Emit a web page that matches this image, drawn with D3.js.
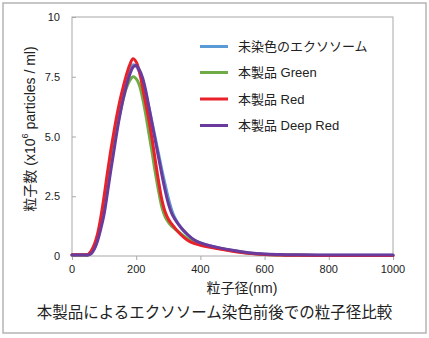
<!DOCTYPE html>
<html><head><meta charset="utf-8">
<script src="https://cdn.jsdelivr.net/npm/d3@7"></script>
<style>html,body{margin:0;padding:0;background:#fff;}svg{display:block;}</style>
</head><body>
<svg id="c" width="429" height="338"></svg>
<script>
const sizes = [0,20,40,50,60,70,80,90,100,110,120,130,140,150,160,170,180,190,200,210,220,230,240,250,260,270,280,290,300,310,320,340,360,380,400,430,460,500,550,600,650,700,800,900,1000];
const unstained = [0.04,0.04,0.04,0.05,0.12,0.35,0.75,1.3,1.95,2.8,3.75,4.6,5.45,6.2,6.8,7.35,7.75,8.0,7.95,7.7,7.3,6.8,6.2,5.55,4.9,4.25,3.6,3.0,2.42,1.95,1.6,1.18,0.88,0.67,0.55,0.42,0.33,0.23,0.13,0.07,0.05,0.04,0.03,0.03,0.03];
const green = [0.04,0.04,0.04,0.05,0.12,0.35,0.75,1.3,1.95,2.8,3.7,4.55,5.35,6.0,6.6,7.05,7.35,7.5,7.42,7.15,6.6,5.9,5.1,4.3,3.45,2.7,2.05,1.65,1.42,1.26,1.14,0.92,0.72,0.6,0.5,0.4,0.32,0.22,0.12,0.06,0.04,0.03,0.02,0.02,0.02];
const red = [0.05,0.05,0.05,0.06,0.22,0.5,0.95,1.64,2.5,3.45,4.35,5.15,5.9,6.55,7.1,7.6,8.0,8.25,8.12,7.7,7.05,6.35,5.65,4.85,3.95,3.1,2.35,1.85,1.55,1.35,1.18,0.88,0.66,0.53,0.45,0.36,0.29,0.2,0.11,0.06,0.04,0.03,0.02,0.02,0.02];
const deepRed = [0.04,0.04,0.04,0.04,0.1,0.3,0.65,1.15,1.75,2.6,3.5,4.35,5.2,5.95,6.6,7.15,7.6,7.9,7.97,7.78,7.45,6.9,6.2,5.5,4.8,4.1,3.4,2.75,2.2,1.8,1.55,1.18,0.9,0.68,0.55,0.43,0.34,0.24,0.14,0.08,0.06,0.05,0.04,0.04,0.04];
const seriesNames = ["未染色のエクソソーム","本製品 Green","本製品 Red","本製品 Deep Red"];
const seriesColors = ["#5b9bd5","#6fac46","#e8212b","#6a3a9c"];
const xTicks = [0,200,400,600,800,1000];
const yTicks = [0,2.5,5,7.5,10];
const yTickLabels = ["0","2.5","5.0","7.5","10"];
const xTitle = "粒子径(nm)";
const caption = "本製品によるエクソソーム染色前後での粒子径比較";

const svg = d3.select("#c");
const latin = "'Liberation Sans', Arial, Helvetica, sans-serif";
const cjk = "'Liberation Sans', Arial, 'Noto Sans CJK JP', sans-serif";

svg.append("rect").attr("x",3).attr("y",3).attr("width",423).attr("height",330)
  .attr("fill","#fff").attr("stroke","#b4b4b4").attr("stroke-width",1.5);

const L=72, R=393, T=17, B=256;
const x = d3.scaleLinear().domain([0,1000]).range([L,R]);
const y = d3.scaleLinear().domain([0,10]).range([B,T]);

svg.append("rect").attr("x",L).attr("y",T).attr("width",R-L).attr("height",B-T)
  .attr("fill","none").attr("stroke","#a8a8a8").attr("stroke-width",1);

const yAxis = svg.append("g").attr("transform",`translate(${L},0)`)
  .call(d3.axisRight(y).tickValues(yTicks).tickSize(4).tickFormat(""));
yAxis.select(".domain").remove();
yAxis.selectAll("line").attr("stroke","#a8a8a8");
svg.append("g").selectAll("text").data(yTicks).join("text")
  .attr("x",60).attr("y",d=>y(d)).attr("text-anchor","end").attr("dominant-baseline","central")
  .attr("font-family",latin).attr("font-size",11).attr("fill","#222")
  .text((d,i)=>yTickLabels[i]);

const xAxis = svg.append("g").attr("transform",`translate(0,${B})`)
  .call(d3.axisBottom(x).tickValues(xTicks).tickSize(4).tickFormat(""));
xAxis.select(".domain").remove();
xAxis.selectAll("line").attr("stroke","#a8a8a8");
svg.append("g").selectAll("text").data(xTicks).join("text")
  .attr("x",d=>x(d)).attr("y",269).attr("text-anchor","middle").attr("dominant-baseline","central")
  .attr("font-family",latin).attr("font-size",11).attr("fill","#222")
  .text(d=>d);

const all = [unstained, green, red, deepRed];
const line = d3.line().x((d,i)=>x(sizes[i])).y(d=>y(d)).curve(d3.curveCatmullRom.alpha(0.5));
svg.append("g").selectAll("path").data(all).join("path")
  .attr("d",d=>line(d)).attr("fill","none")
  .attr("stroke",(d,i)=>seriesColors[i]).attr("stroke-width",3)
  .attr("stroke-linejoin","round").attr("stroke-linecap","round");

const legY = [46.5,72.5,99,125.5];
const leg = svg.append("g");
seriesNames.forEach((n,i)=>{
  leg.append("line").attr("x1",200).attr("x2",228).attr("y1",legY[i]).attr("y2",legY[i])
    .attr("stroke",seriesColors[i]).attr("stroke-width",3);
  leg.append("text").attr("x",238).attr("y",legY[i]).attr("dominant-baseline","central")
    .attr("font-family",cjk).attr("font-size",13).attr("fill","#222").text(n);
});

const yt = svg.append("text").attr("transform","translate(30,129) rotate(-90)")
  .attr("text-anchor","middle").attr("dominant-baseline","central")
  .attr("font-family",cjk).attr("font-size",14).attr("fill","#222");
yt.append("tspan").text("粒子数 (x10");
yt.append("tspan").attr("font-size",9).attr("dy",-5).text("6");
yt.append("tspan").attr("dy",5).text(" particles / ml)");

svg.append("text").attr("x",242).attr("y",288).attr("text-anchor","middle").attr("dominant-baseline","central")
  .attr("font-family",cjk).attr("font-size",14).attr("fill","#222").text(xTitle);

svg.append("text").attr("x",214.5).attr("y",312).attr("text-anchor","middle").attr("dominant-baseline","central")
  .attr("font-family",cjk).attr("font-size",15.5).attr("fill","#222").text(caption);
</script>
</body></html>
